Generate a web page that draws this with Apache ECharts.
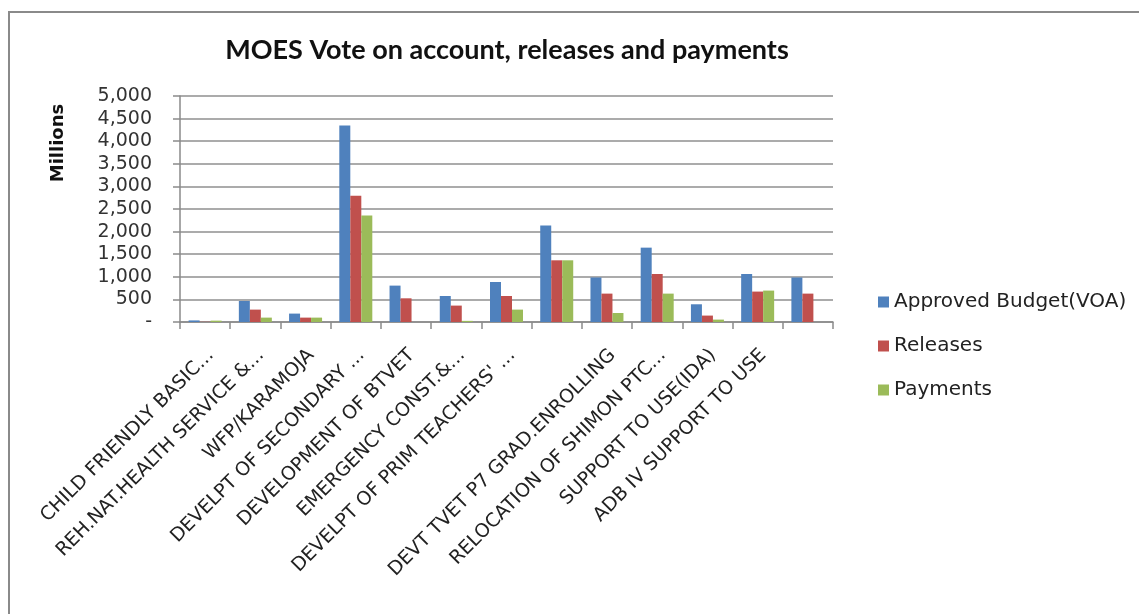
<!DOCTYPE html>
<html>
<head>
<meta charset="utf-8">
<script src="https://cdn.jsdelivr.net/npm/echarts@6/dist/echarts.min.js"></script>
<style>
  html, body { margin: 0; padding: 0; background: #ffffff; }
  #chart { width: 1139px; height: 614px; }
</style>
</head>
<body>
<div id="chart"></div>
<script>
// Vote-on-account programmes (millions)
const categories = [
  'CHILD FRIENDLY BASIC...',
  'REH.NAT.HEALTH SERVICE &...',
  'WFP/KARAMOJA',
  'DEVELPT OF SECONDARY ...',
  'DEVELOPMENT OF BTVET',
  'EMERGENCY CONST.&...',
  "DEVELPT OF PRIM TEACHERS' ...",
  '',
  'DEVT TVET P7 GRAD.ENROLLING',
  'RELOCATION OF SHIMON PTC...',
  'SUPPORT TO USE(IDA)',
  'ADB IV SUPPORT TO USE',
  ''
];
const seriesNames = ['Approved Budget(VOA)', 'Releases', 'Payments'];
const approvedBudget = [35, 465, 186, 4350, 805, 575, 885, 2135, 985, 1645, 392, 1062, 985];
const releases       = [5, 274, 97, 2795, 524, 363, 575, 1365, 628, 1062, 142, 673, 628];
const payments       = [30, 97, 97, 2355, 0, 25, 274, 1365, 199, 628, 53, 695, 0];
const yTicks = { min: 0, max: 5000, step: 500 };

const colors = ['#4F81BD', '#C0504D', '#9BBB59'];
const titleFont = 'Lato, "Open Sans", sans-serif';
const font = '"DejaVu Sans", "Open Sans", sans-serif';

const chart = echarts.init(document.getElementById('chart'), null, { renderer: 'canvas' });

const seriesData = [approvedBudget, releases, payments];

chart.setOption({
  animation: false,
  color: colors,
  title: {
    text: 'MOES Vote on account, releases and payments',
    left: 502,
    top: 32,
    textAlign: 'center',
    textStyle: { fontFamily: titleFont, fontSize: 27, fontWeight: 'bold', color: '#111' }
  },
  legend: {
    orient: 'vertical',
    left: 873,
    top: 287,
    itemWidth: 11,
    itemHeight: 11,
    itemGap: 24,
    icon: 'rect',
    data: seriesNames,
    textStyle: { fontFamily: font, fontSize: 20, color: '#222' }
  },
  graphic: [
    {
      type: 'rect',
      shape: { x: 9, y: 12, width: 1300, height: 800 },
      style: { fill: 'none', stroke: '#8a8a8a', lineWidth: 2 },
      silent: true
    },
    {
      type: 'text',
      x: 58,
      y: 143,
      rotation: Math.PI / 2,
      style: {
        text: 'Millions',
        fontFamily: font,
        fontSize: 18,
        fontWeight: 'bold',
        fill: '#111',
        align: 'center',
        verticalAlign: 'middle'
      }
    }
  ],
  grid: { left: 180, right: 306, top: 96, bottom: 292, containLabel: false },
  xAxis: {
    type: 'category',
    data: categories,
    axisLine: { lineStyle: { color: '#8a8a8a', width: 1.5 } },
    axisTick: { show: true, length: 7, lineStyle: { color: '#8a8a8a', width: 1.5 } },
    axisLabel: {
      interval: 0,
      rotate: 45,
      margin: 36,
      padding: [0, -8, 0, 0],
      fontFamily: font,
      fontSize: 19,
      color: '#222'
    }
  },
  yAxis: {
    type: 'value',
    min: yTicks.min,
    max: yTicks.max,
    interval: yTicks.step,
    axisLine: { show: true, lineStyle: { color: '#8a8a8a', width: 1.5 } },
    axisTick: { show: true, inside: false, length: 7, lineStyle: { color: '#8a8a8a', width: 1.5 } },
    splitLine: { lineStyle: { color: '#8f8f8f', width: 1.5 } },
    axisLabel: {
      margin: 28,
      fontFamily: font,
      fontSize: 19,
      color: '#333',
      formatter: v => (v === 0 ? '-' : v.toLocaleString('en-US'))
    }
  },
  series: seriesNames.map((name, i) => ({
    name,
    type: 'bar',
    data: seriesData[i],
    barWidth: 11,
    barGap: '0%',
    itemStyle: { color: colors[i] }
  }))
});
</script>
</body>
</html>
